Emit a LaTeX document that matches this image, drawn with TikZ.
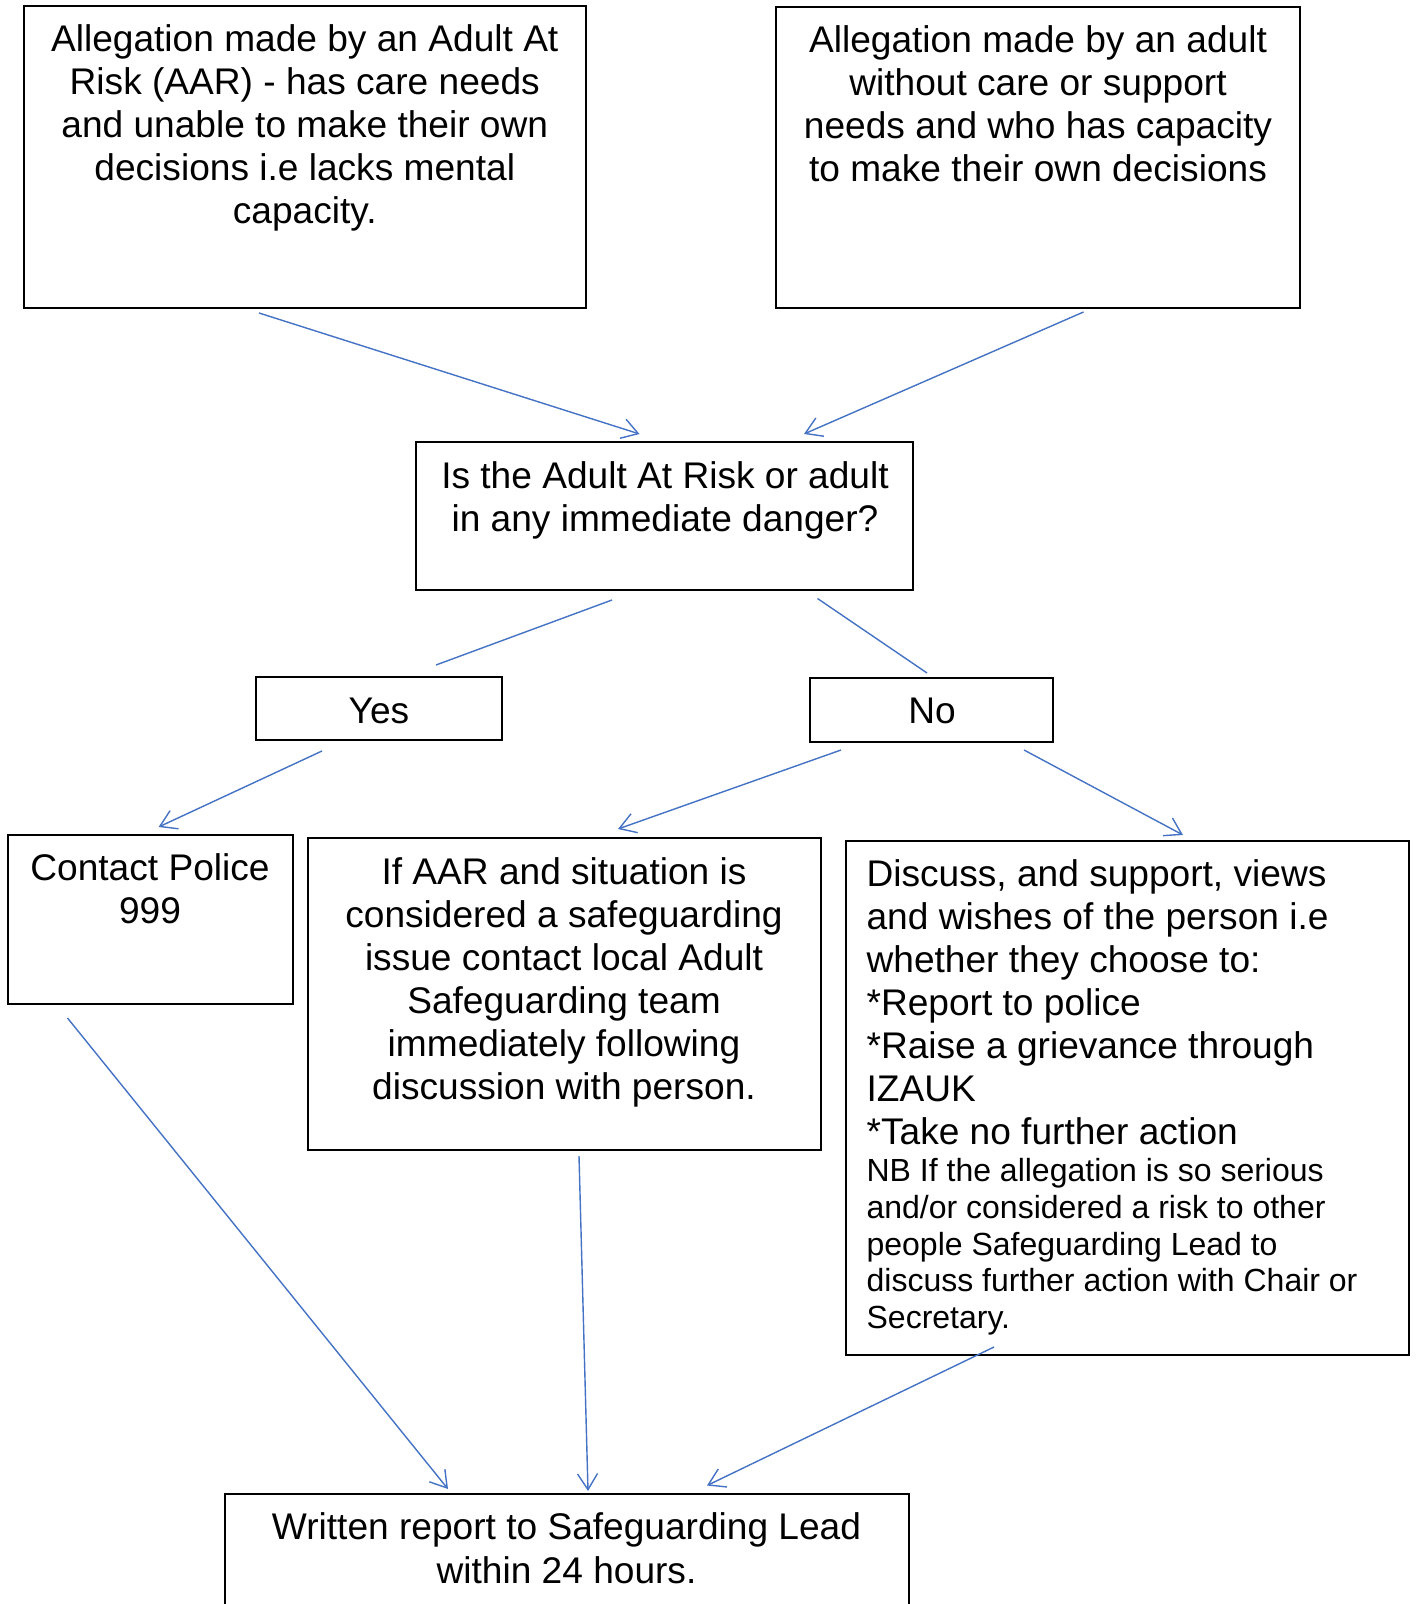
\documentclass[tikz,border=0pt]{standalone}
\usepackage{fontspec}
\setmainfont{Liberation Sans}
\usetikzlibrary{arrows.meta,fit}
\definecolor{linkblue}{RGB}{68,114,196}
\newcommand\natsp{\spaceskip=0.2778em\xspaceskip=0.2778em\relax}
\tikzset{
  box/.style={draw=black, line width=1pt, rectangle, inner sep=0pt, outer sep=0pt},
  txt/.style={inner sep=0pt, outer sep=0pt, anchor=base, align=center, text width=#1,
    font=\fontsize{18.55}{21.5}\selectfont},
  link/.style={draw=linkblue, line width=0.7pt},
  arr/.style={link, -{Straight Barb[length=8pt,width=10pt]}}
}
\begin{document}
\begin{tikzpicture}[x=0.5pt,y=-0.5pt]
\useasboundingbox (0,0) rectangle (1416,1604);
% boxes
\node[box, fit={(23.5,6) (586,308)}] (b1) {};
\node[box, fit={(775.5,7) (1300,308)}] (b2) {};
\node[box, fit={(416,442) (912.6,590)}] (q) {};
\node[box, fit={(256,677) (502,740)}] (yes) {};
\node[box, fit={(810,678) (1053,742)}] (no) {};
\node[box, fit={(8,835) (293,1004)}] (pol) {};
\node[box, fit={(308,838) (820.5,1150)}] (aar) {};
\node[box, fit={(846,841) (1409,1354.5)}] (disc) {};
\node[box, fit={(225,1494) (908.5,1625)}] (wr) {};
% texts
\node[txt=270pt] (b1t) at (304.75,51.7) {\natsp Allegation made by an Adult At\\Risk (AAR) - has care needs\\and unable to make their own\\decisions i.e lacks mental\\capacity.};
\node[txt=255pt] (b2t) at (1038,52.3) {\natsp Allegation made by an adult\\without care or support\\needs and who has capacity\\to make their own decisions};
\node[txt=240pt] (qt) at (665,488.3) {\natsp Is the Adult At Risk or adult\\in any immediate danger?};
\node[txt=100pt] (yest) at (379,723.3) {Yes};
\node[txt=100pt] (not) at (932,723.3) {No};
\node[txt=140pt] (polt) at (150,880) {\natsp Contact Police\\999};
\node[txt=250pt] (aart) at (564,884.3) {\natsp If AAR and situation is\\considered a safeguarding\\issue contact local Adult\\Safeguarding team\\immediately following\\discussion with person.};
\node[txt=280pt, anchor=base west, align=left] (disct) at (866.6,886.7) {\natsp Discuss, and support, views\\and wishes of the person i.e\\whether they choose to:\\{}*Report to police\\{}*Raise a grievance through\\IZAUK\\{}*Take no further action\par
\fontsize{16}{18.4}\selectfont\natsp NB If the allegation is so serious\\and/or considered a risk to other\\people Safeguarding Lead to\\discuss further action with Chair or\\Secretary.\par};
\node[txt=330pt, font=\fontsize{18.55}{22}\selectfont] (wrt) at (566.5,1539) {\natsp Written report to Safeguarding Lead\\within 24 hours.};
% connector end points
\coordinate (c1a) at (259,313);    \coordinate (c1b) at (639.5,434);
\coordinate (c2a) at (1083.5,312); \coordinate (c2b) at (804,434);
\coordinate (c3a) at (612,600);    \coordinate (c3b) at (436,665);
\coordinate (c4a) at (817.5,598.5);\coordinate (c4b) at (927,673);
\coordinate (c5a) at (322,751);    \coordinate (c5b) at (158.6,827);
\coordinate (c6a) at (841,750);    \coordinate (c6b) at (618,829);
\coordinate (c7a) at (1024,750);   \coordinate (c7b) at (1183,835);
\coordinate (c8a) at (67.5,1018);  \coordinate (c8b) at (448,1489);
\coordinate (c9a) at (579,1156);   \coordinate (c9b) at (588,1491);
\coordinate (c10a) at (994,1347);  \coordinate (c10b) at (707,1485.5);
% connectors
\draw[arr] (c1a) -- (c1b);
\draw[arr] (c2a) -- (c2b);
\draw[link] (c3a) -- (c3b);
\draw[link] (c4a) -- (c4b);
\draw[arr] (c5a) -- (c5b);
\draw[arr] (c6a) -- (c6b);
\draw[arr] (c7a) -- (c7b);
\draw[arr] (c8a) -- (c8b);
\draw[arr] (c9a) -- (c9b);
\draw[arr] (c10a) -- (c10b);
\end{tikzpicture}
\end{document}
